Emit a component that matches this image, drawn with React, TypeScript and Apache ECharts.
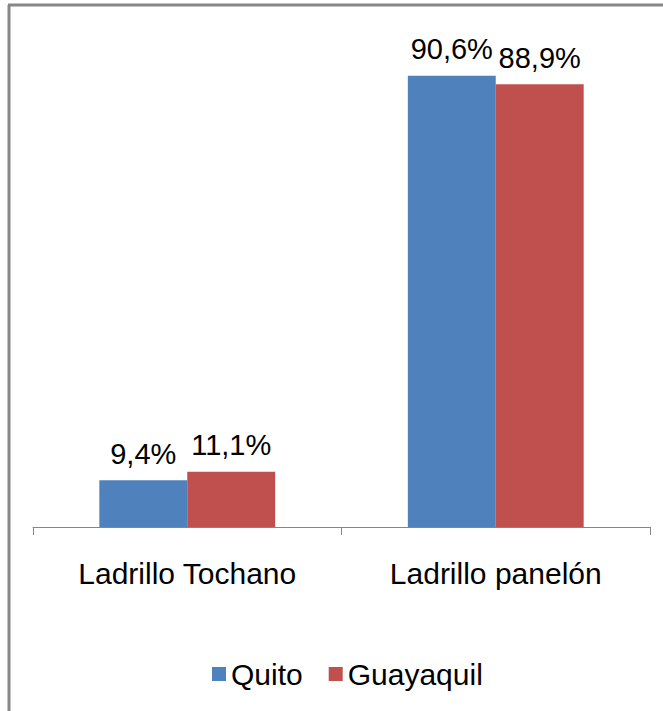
import React, { useEffect, useRef } from "react";
import * as echarts from "echarts";

const categories = ["Ladrillo Tochano", "Ladrillo panelón"];
const quito = [9.4, 90.6];
const guayaquil = [11.1, 88.9];
const seriesNames = ["Quito", "Guayaquil"];
const colors = ["#4F81BD", "#C0504D"];

const fmt = (v: number) => v.toFixed(1).replace(".", ",") + "%";

export default function App() {
  const ref = useRef<HTMLDivElement>(null);
  useEffect(() => {
    if (!ref.current) return;
    const chart = echarts.init(ref.current, undefined, { renderer: "svg" });
    const font = "'Liberation Sans', Arial, sans-serif";
    const labelOpt = {
      show: true,
      position: "top" as const,
      distance: 12,
      fontSize: 29,
      color: "#000",
      fontFamily: font,
      formatter: (p: any) => fmt(p.value),
    };
    chart.setOption({
      animation: false,
      backgroundColor: "#fff",
      textStyle: { fontFamily: font },
      graphic: [
        { type: "line", shape: { x1: 9, y1: 5, x2: 9, y2: 711 }, style: { stroke: "#878787", lineWidth: 3 } },
        { type: "line", shape: { x1: 8, y1: 5, x2: 663, y2: 5 }, style: { stroke: "#878787", lineWidth: 3 } },
      ],
      grid: { left: 33, right: 13, top: 29, bottom: 184, containLabel: false },
      legend: {
        left: 212,
        top: 659,
        padding: 0,
        itemWidth: 14,
        itemHeight: 14,
        itemGap: 26,
        icon: "rect",
        textStyle: { fontSize: 30, color: "#000", fontFamily: font },
        data: seriesNames,
      },
      xAxis: {
        type: "category",
        data: categories,
        axisLine: { lineStyle: { color: "#868686", width: 1 } },
        axisTick: { show: true, length: 8, lineStyle: { color: "#868686" } },
        axisLabel: { fontSize: 30, color: "#000", margin: 31, fontFamily: font },
      },
      yAxis: {
        type: "value",
        min: 0,
        max: 100,
        show: false,
        splitLine: { show: false },
      },
      series: [
        {
          name: seriesNames[0],
          type: "bar",
          data: quito,
          barGap: "0%",
          barCategoryGap: "43%",
          itemStyle: { color: colors[0] },
          label: labelOpt,
        },
        {
          name: seriesNames[1],
          type: "bar",
          data: guayaquil,
          barGap: "0%",
          barCategoryGap: "43%",
          itemStyle: { color: colors[1] },
          label: labelOpt,
        },
      ],
    });
    return () => chart.dispose();
  }, []);
  return (
    <div
      ref={ref}
      style={{ position: "fixed", left: 0, top: 0, width: 663, height: 711, background: "#fff" }}
    />
  );
}
